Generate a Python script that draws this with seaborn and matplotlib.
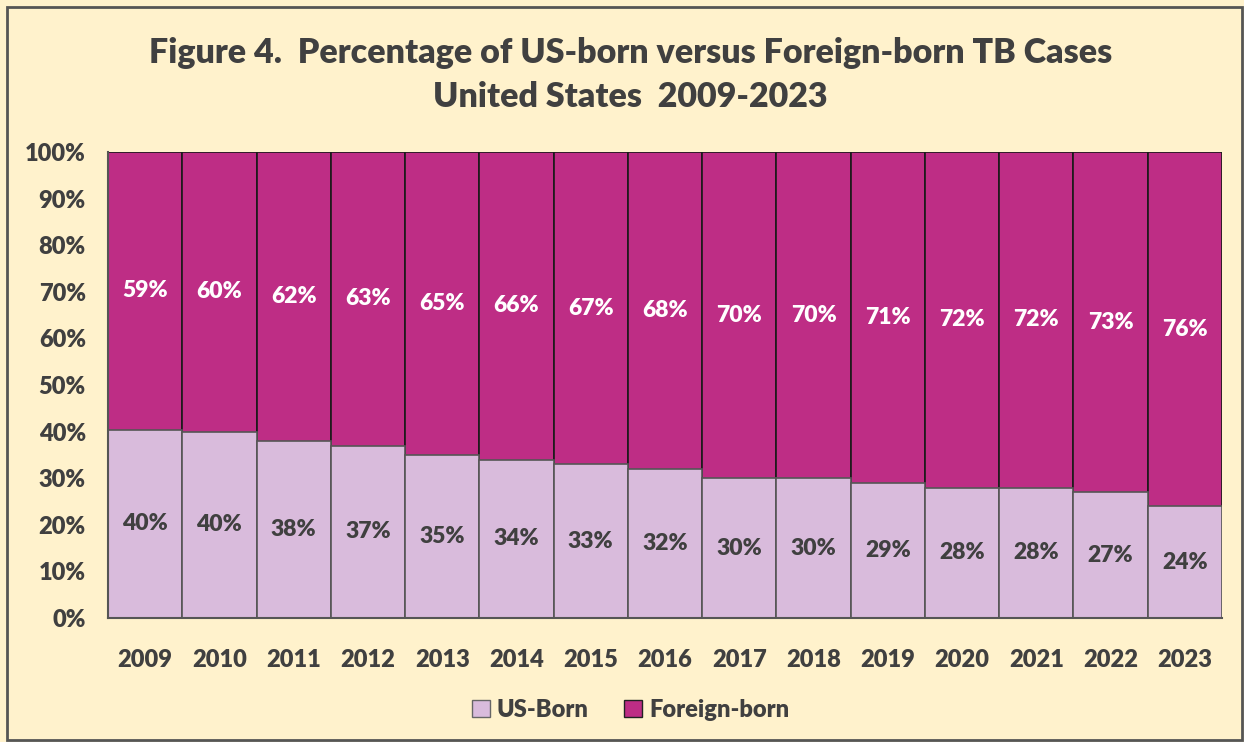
import numpy as np
import pandas as pd
import matplotlib
matplotlib.use("Agg")
import matplotlib.pyplot as plt
import seaborn as sns
from matplotlib.patches import Rectangle

years = ['2009', '2010', '2011', '2012', '2013', '2014', '2015', '2016',
         '2017', '2018', '2019', '2020', '2021', '2022', '2023']
us_born = [40.4, 40.0, 38.0, 37.0, 35.0, 34.0, 33.0, 32.0,
           30.0, 30.0, 29.0, 28.0, 28.0, 27.0, 24.0]
foreign_born = [59.6, 60.0, 62.0, 63.0, 65.0, 66.0, 67.0, 68.0,
                70.0, 70.0, 71.0, 72.0, 72.0, 73.0, 76.0]
us_labels = ['40%', '40%', '38%', '37%', '35%', '34%', '33%', '32%',
             '30%', '30%', '29%', '28%', '28%', '27%', '24%']
fb_labels = ['59%', '60%', '62%', '63%', '65%', '66%', '67%', '68%',
             '70%', '70%', '71%', '72%', '72%', '73%', '76%']

BG = '#FFF2CC'
US_COL = '#D9BBDC'
FB_COL = '#BE2D85'
TXT = '#404040'
W = 'heavy'

sns.set_theme(style='white')
plt.rcParams['font.family'] = ['Lato', 'DejaVu Sans']
plt.rcParams['font.weight'] = W

df = pd.DataFrame({'year': years, 'us': us_born, 'fb': foreign_born})
tot = df['us'] + df['fb']
df['us_pct'] = df['us'] / tot * 100
df['top'] = 100.0

fig = plt.figure(figsize=(12.44, 7.42), dpi=100, facecolor=BG)
ax = fig.add_axes([108 / 1244, 1 - 618 / 742, (1222 - 108) / 1244, (618 - 152) / 742])
ax.set_facecolor(BG)

# full-height bars first (foreign-born), then US-born on top of them
sns.barplot(data=df, x='year', y='top', color=FB_COL, width=1.0, saturation=1,
            edgecolor='#1a1a1a', linewidth=1.2, ax=ax)
sns.barplot(data=df, x='year', y='us_pct', color=US_COL, width=1.0, saturation=1,
            edgecolor='#555555', linewidth=1.2, ax=ax)

for i, (u, ul, fl) in enumerate(zip(df['us_pct'], us_labels, fb_labels)):
    ax.text(i, u / 2, ul, ha='center', va='center', fontsize=16.5,
            fontweight=W, color=TXT)
    ax.text(i, u + (100 - u) / 2, fl, ha='center', va='center', fontsize=16.5,
            fontweight=W, color='white')

ax.set_xlim(-0.5, len(years) - 0.5)
ax.set_ylim(0, 100)
ax.set_yticks(np.arange(0, 101, 10))
ax.set_yticklabels([f'{v}%' for v in range(0, 101, 10)])
ax.tick_params(axis='y', labelsize=17, colors=TXT, pad=16, length=0)
ax.tick_params(axis='x', labelsize=17, colors=TXT, pad=22, length=0)
for lab in ax.get_xticklabels() + ax.get_yticklabels():
    lab.set_fontweight(W)
ax.set_xlabel('')
ax.set_ylabel('')
for s in ['top', 'right']:
    ax.spines[s].set_visible(False)
for s in ['left', 'bottom']:
    ax.spines[s].set_color('#555555')
    ax.spines[s].set_linewidth(1.5)

fig.text(0.507, 1 - 53 / 742, 'Figure 4.  Percentage of US-born versus Foreign-born TB Cases',
         ha='center', va='center', fontsize=24.5, fontweight=W, color=TXT)
fig.text(0.507, 1 - 97 / 742, 'United States  2009-2023',
         ha='center', va='center', fontsize=24.5, fontweight=W, color=TXT)

handles = [Rectangle((0, 0), 1, 1, facecolor=US_COL, edgecolor='#666666'),
           Rectangle((0, 0), 1, 1, facecolor=FB_COL, edgecolor='#222222')]
leg = fig.legend(handles, ['US-Born', 'Foreign-born'], loc='center',
                 bbox_to_anchor=(0.507, 1 - 710 / 742), ncol=2, frameon=False,
                 fontsize=17, handlelength=0.75, handleheight=0.75,
                 handletextpad=0.3, columnspacing=1.5)
for t in leg.get_texts():
    t.set_color(TXT)
    t.set_fontweight(W)

fig.patches.append(Rectangle((7 / 1244, 2 / 742), 1 - 9 / 1244, 1 - 9 / 742,
                             transform=fig.transFigure, fill=False,
                             edgecolor='#555555', linewidth=2))

fig.savefig('out.png', dpi=100, facecolor=BG)
